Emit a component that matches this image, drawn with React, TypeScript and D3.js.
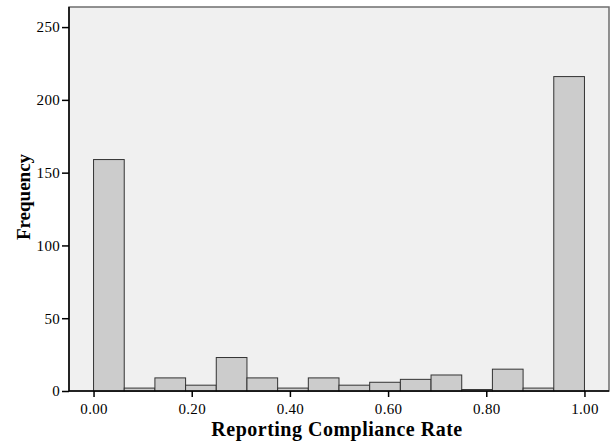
import React, { useEffect, useRef } from 'react';
import * as d3 from 'd3';

// histogram bins: 16 equal bins over 0..1
const binStarts = [0, 0.0625, 0.125, 0.1875, 0.25, 0.3125, 0.375, 0.4375, 0.5, 0.5625, 0.625, 0.6875, 0.75, 0.8125, 0.875, 0.9375];
const binWidth = 0.0625;
const counts = [159, 2, 9, 4, 23, 9, 2, 9, 4, 6, 8, 11, 1, 15, 2, 216];
const xTicks = [0, 0.2, 0.4, 0.6, 0.8, 1.0];
const yTicks = [0, 50, 100, 150, 200, 250];

const width = 610;
const height = 448;
const margin = { top: 7, right: 1, bottom: 57, left: 69 };
const font = '"Liberation Serif", "Times New Roman", serif';

function App() {
    const ref = useRef<SVGSVGElement>(null);

    useEffect(() => {
        drawChart();
    }, []);

    function drawChart() {
        const svg = d3.select(ref.current);
        svg.selectAll('*').remove();

        const x = d3.scaleLinear()
            .domain([-0.05, 1.05])
            .range([margin.left, width - margin.right]);
        const y = d3.scaleLinear()
            .domain([0, 263.8])
            .range([height - margin.bottom, margin.top]);

        // plot background + frame
        svg.append('rect')
            .attr('x', margin.left)
            .attr('y', margin.top)
            .attr('width', width - margin.left - margin.right)
            .attr('height', height - margin.top - margin.bottom)
            .style('fill', '#f0f0f0')
            .style('stroke', '#6e6e6e')
            .style('stroke-width', 1.5);

        svg.append('g')
            .selectAll('rect')
            .data(counts)
            .enter()
            .append('rect')
            .attr('x', (_, i) => x(binStarts[i]))
            .attr('y', (d) => y(d))
            .attr('width', x(binWidth) - x(0))
            .attr('height', (d) => y(0) - y(d))
            .style('fill', '#cccccc')
            .style('stroke', '#333333')
            .style('stroke-width', 1);

        const yAxis = svg.append('g')
            .attr('transform', `translate(${margin.left},0)`)
            .call(d3.axisLeft(y).tickValues(yTicks).tickSize(7).tickPadding(2).tickFormat(d3.format('d')));
        const xAxis = svg.append('g')
            .attr('transform', `translate(0,${y(0)})`)
            .call(d3.axisBottom(x).tickValues(xTicks).tickSize(6).tickPadding(6).tickFormat(d3.format('.2f')));

        [xAxis, yAxis].forEach((g) => {
            g.select('.domain').remove();
            g.selectAll('line').style('stroke', '#000').style('stroke-width', 1.5);
            g.selectAll('text')
                .style('font-family', font)
                .style('font-size', '15px')
                .style('letter-spacing', '0.3px')
                .style('fill', '#000');
        });

        // axis lines (left, bottom)
        svg.append('line')
            .attr('x1', margin.left).attr('x2', margin.left)
            .attr('y1', margin.top).attr('y2', y(0))
            .style('stroke', '#000').style('stroke-width', 1.5);
        svg.append('line')
            .attr('x1', margin.left).attr('x2', width - margin.right)
            .attr('y1', y(0)).attr('y2', y(0))
            .style('stroke', '#000').style('stroke-width', 1.5);

        svg.append('text')
            .attr('x', 337)
            .attr('y', 436)
            .attr('text-anchor', 'middle')
            .style('font-family', font)
            .style('font-size', '20px')
            .style('letter-spacing', '0.5px')
            .style('font-weight', 'bold')
            .text('Reporting Compliance Rate');

        svg.append('text')
            .attr('transform', `translate(30,197)rotate(-90)`)
            .attr('text-anchor', 'middle')
            .style('font-family', font)
            .style('font-size', '19px')
            .style('font-weight', 'bold')
            .text('Frequency');
    }

    return (
        <svg ref={ref} width={width} height={height}
            style={{ position: 'absolute', left: 0, top: 0, background: '#fff' }} />
    );
}

export default App;
